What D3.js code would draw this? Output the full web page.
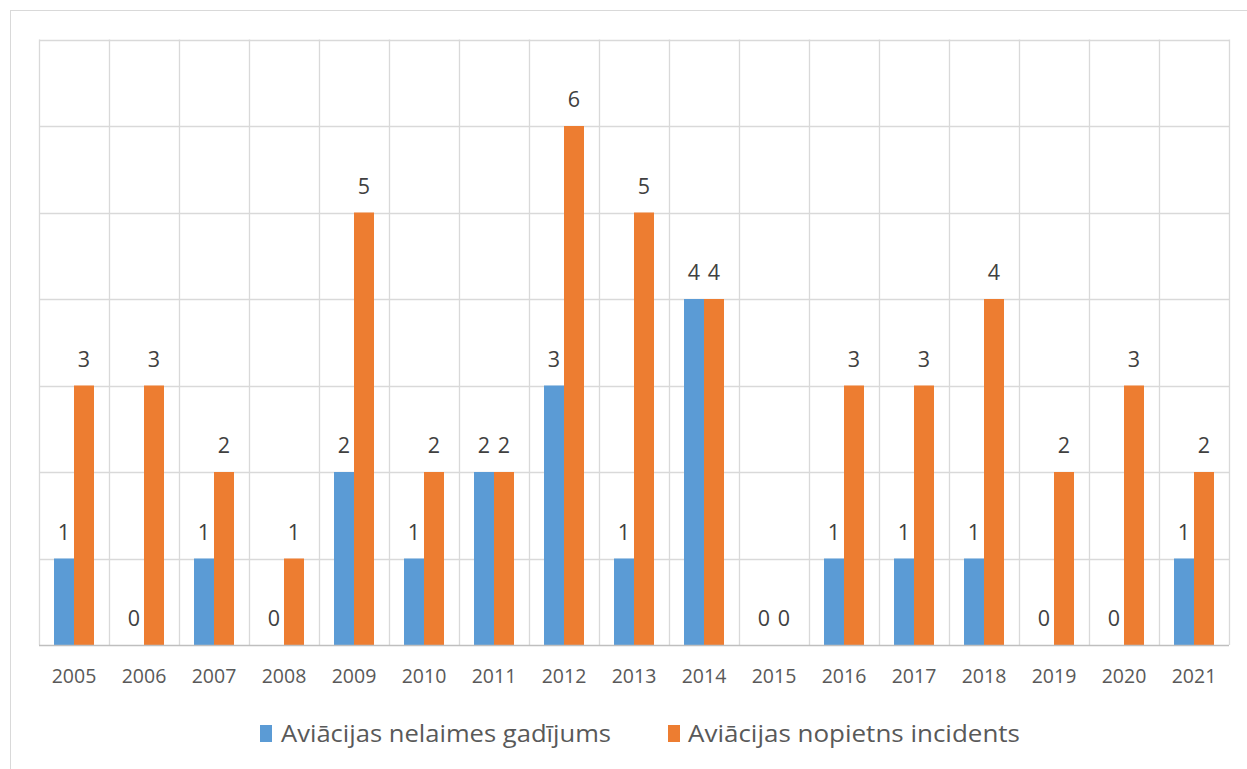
<!DOCTYPE html>
<html><head><meta charset="utf-8">
<script src="https://cdn.jsdelivr.net/npm/d3@7"></script>
<style>body{margin:0;background:#fff}svg{display:block}</style>
</head><body>
<script>
const years = ["2005","2006","2007","2008","2009","2010","2011","2012","2013","2014","2015","2016","2017","2018","2019","2020","2021"];
const accidents = [1,0,1,0,2,1,2,3,1,4,0,1,1,1,0,0,1];
const incidents = [3,3,2,1,5,2,2,6,5,4,0,3,3,4,2,3,2];
const seriesNames = ["Aviācijas nelaimes gadījums","Aviācijas nopietns incidents"];
const colors = ["#5B9BD5","#ED7D31"];
const yTicks = [0,1,2,3,4,5,6,7];

(function(){
const W=1247,H=769;
const svg=d3.select("body").append("svg").attr("width",W).attr("height",H);
const font="Open Sans, sans-serif";
svg.append("rect").attr("x",10.5).attr("y",10.5).attr("width",1260).attr("height",800)
  .attr("fill","none").attr("stroke","#D9D9D9");

const pL=39,pR=1229,pT=39.5,pB=645;
const x=d3.scaleBand().domain(years).range([pL,pR]).padding(0);
const x1=d3.scaleBand().domain([0,1]).range([15,55]).padding(0);
const y=d3.scaleLinear().domain([0,7]).range([pB,pT]);

const g=svg.append("g");
g.selectAll(".hg").data(yTicks.slice(1)).join("line")
  .attr("x1",pL).attr("x2",pR).attr("y1",d=>Math.round(y(d))+0.5).attr("y2",d=>Math.round(y(d))+0.5)
  .attr("stroke","#D9D9D9").attr("stroke-width",1.3);
const vx=years.map(d=>x(d)).concat([pR]);
g.selectAll(".vg").data(vx).join("line")
  .attr("x1",d=>Math.round(d)+0.5).attr("x2",d=>Math.round(d)+0.5).attr("y1",pT).attr("y2",pB)
  .attr("stroke","#D9D9D9").attr("stroke-width",1.3);

const data=[accidents,incidents];
data.forEach((arr,si)=>{
  g.selectAll(".b"+si).data(arr).join("rect")
    .attr("x",(d,i)=>x(years[i])+x1(si)).attr("width",x1.bandwidth())
    .attr("y",d=>y(d)).attr("height",d=>pB-y(d)).attr("fill",colors[si]);
  g.selectAll(".l"+si).data(arr).join("text")
    .attr("x",(d,i)=>x(years[i])+x1(si)+x1.bandwidth()/2)
    .attr("y",d=>y(d)-19)
    .attr("text-anchor","middle").attr("font-family",font).attr("font-size",21.5)
    .attr("fill","#404040").text(d=>d);
});

g.append("line").attr("x1",pL).attr("x2",pR).attr("y1",pB+0.5).attr("y2",pB+0.5)
  .attr("stroke","#BFBFBF").attr("stroke-width",1.5);
g.selectAll(".xl").data(years).join("text")
  .attr("x",d=>x(d)+x.bandwidth()/2).attr("y",683)
  .attr("text-anchor","middle").attr("font-family",font).attr("font-size",19.5)
  .attr("fill","#595959").text(d=>d);

const leg=[{sx:260,tx:281,tw:330},{sx:668,tx:688,tw:332}];
leg.forEach((l,i)=>{
  svg.append("rect").attr("x",l.sx).attr("y",725).attr("width",12).attr("height",17).attr("fill",colors[i]);
  svg.append("text").attr("x",l.tx).attr("y",742).attr("font-family",font).attr("font-size",23.5)
    .attr("fill","#595959").attr("textLength",l.tw).attr("lengthAdjust","spacingAndGlyphs").text(seriesNames[i]);
});
})();
</script>
</body></html>
